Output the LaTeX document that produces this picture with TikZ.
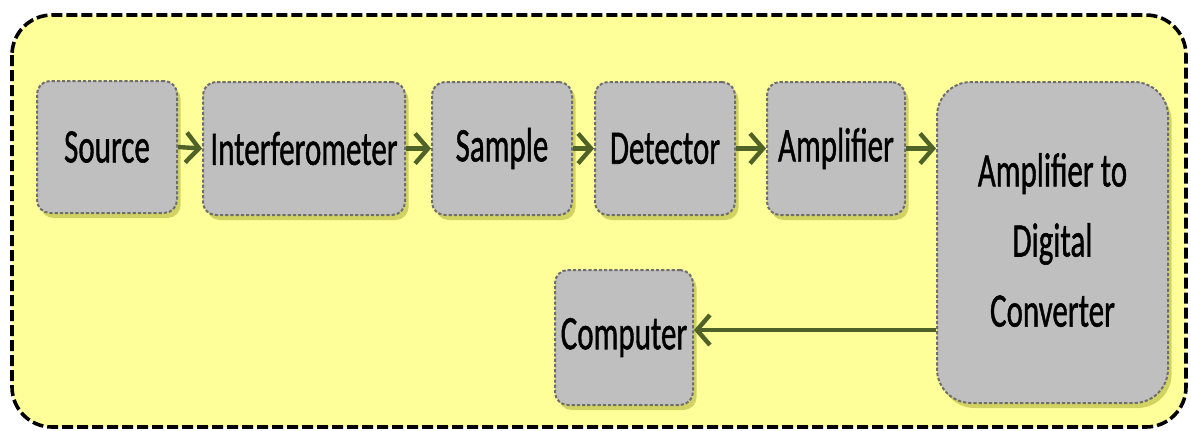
\documentclass[tikz,border=0pt]{standalone}
\usepackage{fontspec}
\setmainfont{Carlito}
\newfontfamily\blockfont[FakeBold=1.2]{Carlito}
\usetikzlibrary{arrows.meta,shadows}
\definecolor{panelfill}{HTML}{FFFF99}
\definecolor{boxfill}{HTML}{BFBFBF}
\definecolor{boxline}{HTML}{6E6E6E}
\definecolor{flow}{HTML}{4F6228}
\definecolor{shade}{HTML}{808000}
\newcommand{\tall}[1]{\scalebox{1}[1.55]{#1}}
\tikzset{
  panel/.style={draw=black, fill=panelfill, line width=1.8pt,
    dash pattern=on 5.5pt off 2pt, rounded corners=20pt},
  block/.style={draw=boxline, fill=boxfill, line width=1pt,
    dash pattern=on 1.6pt off 1pt, rounded corners=6.5pt,
    inner sep=0pt, font=\blockfont\fontsize{15.5pt}{22.6pt}\selectfont,
    drop shadow={shadow xshift=1.8pt, shadow yshift=-2.5pt,
      fill=shade, opacity=0.35}},
  flowarrow/.style={draw=flow, line width=2.2pt,
    -{Straight Barb[length=6.5pt,width=15pt]}},
}
\begin{document}
\begin{tikzpicture}[x=0.5pt,y=-0.5pt]
  \useasboundingbox (0,0) rectangle (1191,430);
  % background panel
  \draw[panel] (12,15) rectangle (1186,427);

  % top row of the signal chain
  \node[block, minimum width=70pt, minimum height=66pt] (src) at (107,147) {\tall{Source}};
  \node[block, minimum width=101pt, minimum height=66.5pt] (intf) at (304,148.5) {\tall{Interferometer}};
  \node[block, minimum width=70pt, minimum height=66.5pt] (smp) at (502,148.5) {\tall{Sample}};
  \node[block, minimum width=70pt, minimum height=66.5pt] (det) at (665,148.5) {\tall{Detector}};
  \node[block, minimum width=69pt, minimum height=66.5pt] (amp) at (836,148.5) {\tall{Amplifier}};
  \node[block, rounded corners=17pt, minimum width=115.5pt, minimum height=160.5pt] (adc) at (1052.5,242.5)
    {\tall{\begin{tabular}{@{}c@{}}Amplifier to\\Digital\\Converter\end{tabular}}};
  \node[block, minimum width=69pt, minimum height=67.5pt] (comp) at (624,337.5) {\tall{Computer}};

  % connectors
  \draw[flowarrow] (src.east) -- (intf.west);
  \draw[flowarrow] (intf.east) -- (smp.west);
  \draw[flowarrow] (smp.east) -- (det.west);
  \draw[flowarrow] (det.east) -- (amp.west);
  \draw[flowarrow] (amp.east) -- (amp.east -| adc.west);
  \coordinate (adcout) at ([yshift=3.75pt]adc.west |- comp.east);
  \draw[flowarrow] (adcout) -- (adcout -| comp.east);
\end{tikzpicture}
\end{document}
